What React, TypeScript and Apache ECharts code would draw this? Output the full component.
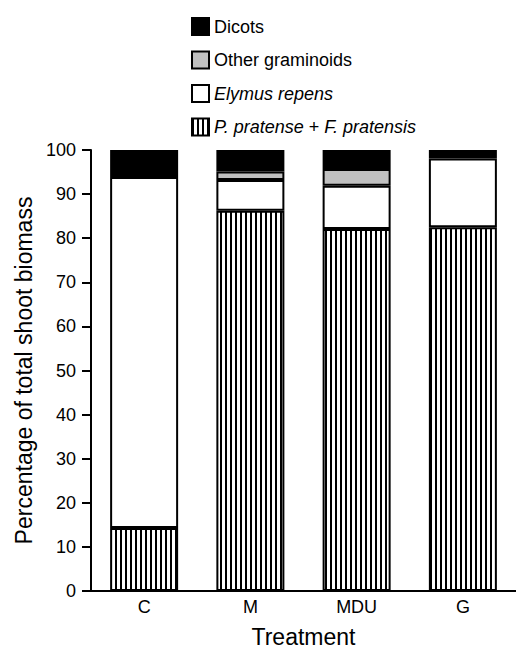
import React, { useEffect, useRef } from "react";
import * as echarts from "echarts";

const categories = ["C", "M", "MDU", "G"];
const pratense = [14.3, 86.2, 82.1, 82.5];
const elymus = [79.6, 7.0, 9.8, 15.6];
const otherGram = [0, 1.9, 3.8, 0];
const dicots = [6.1, 4.9, 4.3, 1.9];
const yTicks = { min: 0, max: 100, interval: 10 };

const FONT = "'Liberation Sans', Arial, Helvetica, sans-serif";

function makeStripe(): HTMLCanvasElement {
  const c = document.createElement("canvas");
  c.width = 5;
  c.height = 10;
  const ctx = c.getContext("2d")!;
  ctx.fillStyle = "#ffffff";
  ctx.fillRect(0, 0, 5, 10);
  ctx.fillStyle = "#000000";
  ctx.fillRect(0, 0, 2, 10);
  return c;
}

export default function App() {
  const ref = useRef<HTMLDivElement>(null);
  useEffect(() => {
    if (!ref.current) return;
    const chart = echarts.init(ref.current, null, { renderer: "svg" });
    const stripe = makeStripe();
    const border = { borderColor: "#000", borderWidth: 2 };
    const barW = 68;
    chart.setOption({
      animation: false,
      backgroundColor: "#fff",
      textStyle: { fontFamily: FONT, color: "#000" },
      legend: {
        orient: "vertical",
        left: 186,
        top: 12,
        itemWidth: 17,
        itemHeight: 17,
        itemGap: 14.5,
        icon: "rect",
        selectedMode: false,
        data: ["Dicots", "Other graminoids", "Elymus repens", "P. pratense + F. pratensis"],
        formatter: (name: string) => {
          if (name === "Elymus repens") return "{i|Elymus repens}";
          if (name === "P. pratense + F. pratensis") return "{i|P. pratense} + {i|F. pratensis}";
          return name;
        },
        textStyle: {
          fontFamily: FONT,
          fontSize: 18,
          color: "#000",
          rich: {
            i: { fontFamily: FONT, fontSize: 18, fontStyle: "italic", color: "#000" },
          },
        },
      },
      grid: { left: 91, top: 150, width: 432, height: 447, containLabel: false },
      xAxis: {
        type: "category",
        data: categories,
        axisLine: { show: true, lineStyle: { color: "#000", width: 2 } },
        axisTick: { show: false },
        axisLabel: { color: "#000", fontSize: 18, fontFamily: FONT, margin: 7 },
        name: "Treatment",
        nameLocation: "middle",
        nameGap: 34,
        nameTextStyle: { color: "#000", fontSize: 23, fontFamily: FONT },
      },
      yAxis: {
        type: "value",
        min: yTicks.min,
        max: yTicks.max,
        interval: yTicks.interval,
        axisLine: { show: true, lineStyle: { color: "#000", width: 2 } },
        axisTick: { show: true, inside: false, length: 9, lineStyle: { color: "#000", width: 2 } },
        axisLabel: { color: "#000", fontSize: 18, fontFamily: FONT, margin: 15 },
        splitLine: { show: false },
        name: "Percentage of total shoot biomass",
        nameLocation: "middle",
        nameGap: 56,
        nameTextStyle: { color: "#000", fontSize: 23, fontFamily: FONT },
      },
      series: [
        {
          name: "P. pratense + F. pratensis",
          type: "bar",
          stack: "s",
          barWidth: barW,
          data: pratense,
          itemStyle: { color: { image: stripe, repeat: "repeat" }, ...border },
        },
        {
          name: "Elymus repens",
          type: "bar",
          stack: "s",
          barWidth: barW,
          data: elymus,
          itemStyle: { color: "#ffffff", ...border },
        },
        {
          name: "Other graminoids",
          type: "bar",
          stack: "s",
          barWidth: barW,
          data: otherGram.map((v) => (v === 0 ? null : v)),
          itemStyle: { color: "#c0c0c0", ...border },
        },
        {
          name: "Dicots",
          type: "bar",
          stack: "s",
          barWidth: barW,
          data: dicots,
          itemStyle: { color: "#000000", ...border },
        },
      ],
    });
    return () => chart.dispose();
  }, []);
  return (
    <div
      ref={ref}
      style={{ position: "absolute", left: 0, top: 0, width: 516, height: 653 }}
    />
  );
}
